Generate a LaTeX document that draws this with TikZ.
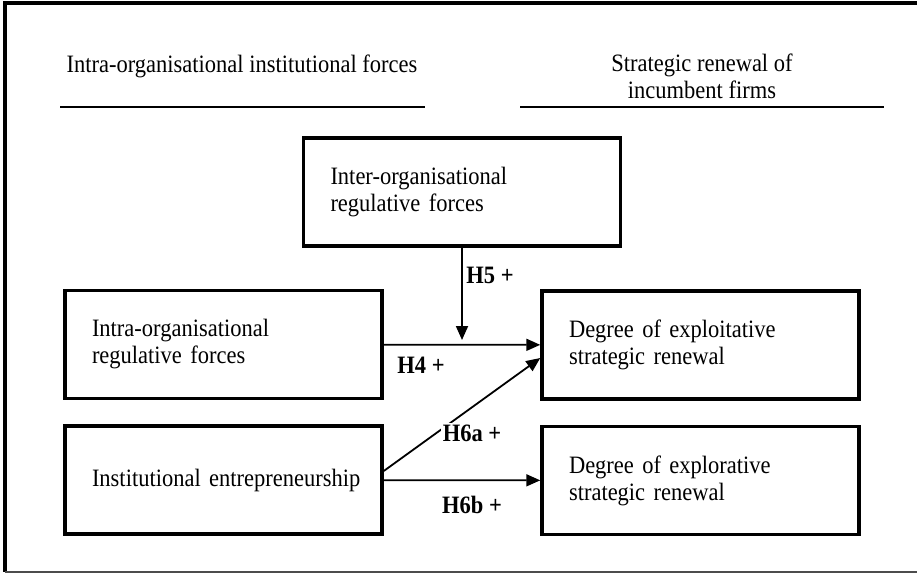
\documentclass[tikz,border=0pt]{standalone}
\usepackage{fontspec}
\setmainfont{Liberation Serif}[FakeStretch=0.9]
\usetikzlibrary{arrows.meta}
\begin{document}
\begin{tikzpicture}[x=1pt, y=-1pt, font=\fontsize{25}{27}\selectfont,
  box/.style={draw, line width=3.5pt, minimum height=108pt, text width=263pt, inner xsep=27pt, align=left},
  link/.style={line width=1.8pt, -{Triangle[length=14pt, width=12pt]}},
  hyp/.style={font=\fontsize{25}{27}\selectfont\bfseries, inner sep=2pt}]
  \useasboundingbox (0,0) rectangle (917,574);
  \draw[line width=3.5pt] (925,3) -- (5,3) -- (5,572);
  \draw[line width=1.5pt, black!70] (5,572) -- (925,572);
  \node (hdleft) at (242,66) {Intra-organisational institutional forces};
  \node[align=center] (hdright) at (702,76) {Strategic renewal of\\incumbent firms};
  \draw[line width=2.2pt] (60,107) -- (425,107);
  \draw[line width=2.2pt] (520,107) -- (884,107);
  \node[box] (inter) at (462,192) {Inter-organisational\\regulative forces};
  \node[box] (intra) at (223.5,344.5) {Intra-organisational\\regulative forces};
  \node[box] (entre) at (223.5,480) {\mbox{Institutional entrepreneurship}};
  \node[box] (exploit) at (700.5,345) {Degree of exploitative\\strategic renewal};
  \node[box] (explore) at (700.5,480.5) {Degree of explorative\\strategic renewal};
  \coordinate (h5end) at (462,340);
  \draw[link] (inter) -- (h5end);
  \draw[link] (intra) -- (exploit);
  \draw[link] ([yshift=9pt]entre.east) -- ([yshift=-13pt]exploit.west);
  \draw[link] (entre) -- (explore);
  \node[hyp] (h5) at (490,275) {H5 +};
  \node[hyp] (h4) at (421,365) {H4 +};
  \node[hyp, fill=white] (h6a) at (472,433) {H6a +};
  \node[hyp] (h6b) at (472,505) {H6b +};
\end{tikzpicture}
\end{document}
